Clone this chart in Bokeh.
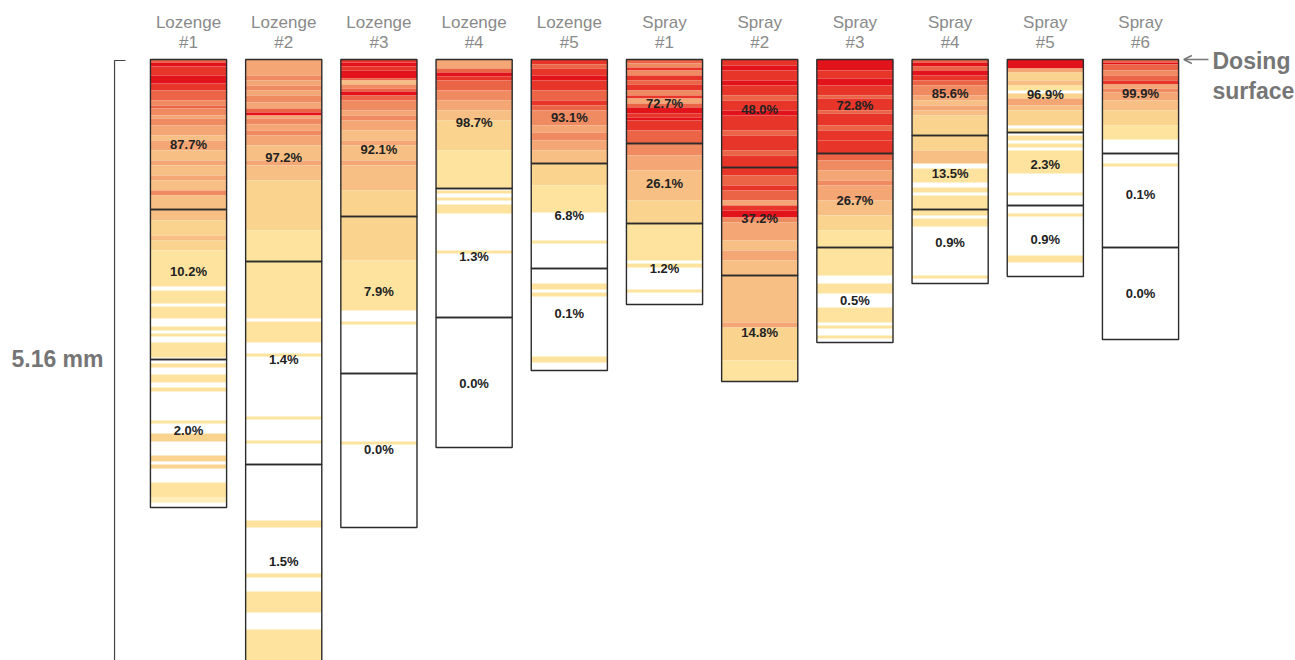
from bokeh.plotting import figure
from bokeh.models import Range1d, ColumnDataSource, Arrow, OpenHead
from bokeh.embed import file_html
from bokeh.resources import INLINE
from bokeh.core.properties import value

# ---------------- data ----------------
groups = ["Lozenge"] * 5 + ["Spray"] * 6
numbers = ["#1", "#2", "#3", "#4", "#5", "#1", "#2", "#3", "#4", "#5", "#6"]

# segment boundaries (depth units from dosing surface, 600 units = 5.16 mm)
bounds = [
    [0, 150, 300, 448],
    [0, 202, 405, 607],
    [0, 157, 314, 468],
    [0, 129, 258, 388],
    [0, 104, 209, 311],
    [0, 84, 164, 245],
    [0, 108, 216, 322],
    [0, 94, 188, 283],
    [0, 76, 150, 224],
    [0, 73, 146, 217],
    [0, 94, 188, 280],
]

pcts = [
    ["87.7%", "10.2%", "2.0%"],
    ["97.2%", "1.4%", "1.5%"],
    ["92.1%", "7.9%", "0.0%"],
    ["98.7%", "1.3%", "0.0%"],
    ["93.1%", "6.8%", "0.1%"],
    ["72.7%", "26.1%", "1.2%"],
    ["48.0%", "37.2%", "14.8%"],
    ["72.8%", "26.7%", "0.5%"],
    ["85.6%", "13.5%", "0.9%"],
    ["96.9%", "2.3%", "0.9%"],
    ["99.9%", "0.1%", "0.0%"],
]

# intensity slices per column: (end depth, level 0..9); start = previous end
runs = [
    [(3, 7), (7, 9), (16, 8), (24, 9), (31, 8), (41, 7), (46, 6), (49, 7), (56, 6), (59, 5),
     (66, 6), (76, 5), (81, 4), (91, 5), (101, 4), (106, 5), (116, 4), (121, 5), (131, 4),
     (136, 6), (150, 4), (161, 4), (176, 3), (181, 4), (191, 3), (227, 2), (231, 0), (244, 2),
     (247, 0), (259, 2), (267, 0), (271, 2), (274, 0), (277, 2), (283, 0), (298, 2), (300, 0),
     (304, 0), (308, 2), (315, 0), (323, 2), (328, 0), (332, 2), (361, 0), (364, 2), (374, 0),
     (382, 3), (396, 0), (402, 3), (405, 0), (409, 3), (423, 0), (438, 2), (443, 1), (448, 0)],
    [(16, 5), (21, 6), (26, 5), (31, 6), (36, 5), (43, 6), (49, 5), (53, 7), (56, 9), (59, 5),
     (65, 6), (71, 5), (76, 6), (86, 5), (101, 4), (106, 5), (121, 4), (171, 3), (202, 2),
     (259, 2), (262, 0), (283, 2), (294, 0), (297, 2), (357, 0), (360, 2), (381, 0), (384, 2),
     (405, 0), (461, 0), (468, 2), (514, 0), (518, 2), (532, 0), (553, 2), (570, 0), (607, 2)],
    [(3, 8), (7, 9), (11, 8), (19, 9), (21, 7), (25, 4), (29, 6), (32, 7), (36, 9), (41, 7),
     (51, 6), (56, 5), (61, 6), (71, 5), (81, 4), (86, 5), (101, 4), (106, 5), (131, 4),
     (157, 3), (201, 3), (251, 2), (262, 0), (265, 2), (314, 0), (382, 0), (385, 2), (468, 0)],
    [(9, 5), (13, 7), (17, 9), (21, 8), (31, 7), (41, 6), (51, 5), (61, 4), (91, 3), (129, 2),
     (131, 0), (134, 2), (138, 0), (141, 2), (145, 0), (154, 2), (191, 0), (194, 2), (258, 0),
     (388, 0)],
    [(5, 8), (9, 7), (16, 8), (21, 9), (31, 8), (41, 7), (46, 8), (51, 7), (66, 6), (73, 5),
     (81, 6), (91, 5), (104, 4), (126, 3), (153, 2), (181, 0), (184, 2), (209, 0), (224, 0),
     (230, 2), (233, 0), (237, 2), (297, 0), (303, 2), (311, 0)],
    [(4, 7), (8, 6), (11, 8), (16, 6), (21, 8), (25, 7), (31, 8), (36, 6), (39, 8), (44, 5),
     (48, 7), (54, 9), (58, 8), (61, 9), (71, 8), (84, 7), (96, 6), (111, 5), (141, 4),
     (164, 3), (201, 2), (204, 0), (208, 2), (230, 0), (233, 2), (245, 0)],
    [(6, 8), (11, 9), (21, 8), (26, 9), (36, 8), (41, 7), (51, 8), (56, 9), (71, 8), (76, 7),
     (91, 8), (96, 7), (108, 8), (116, 8), (126, 7), (131, 8), (141, 7), (146, 5), (151, 8),
     (158, 9), (163, 6), (181, 5), (191, 4), (201, 5), (216, 4), (263, 4), (268, 5), (301, 3),
     (322, 2)],
    [(11, 9), (19, 8), (26, 9), (36, 8), (39, 7), (51, 8), (54, 7), (66, 8), (71, 7), (81, 8),
     (94, 8), (101, 7), (111, 6), (121, 5), (126, 6), (141, 5), (156, 4), (171, 3), (188, 2),
     (216, 2), (224, 0), (234, 2), (248, 0), (263, 2), (266, 0), (269, 2), (276, 0), (279, 2),
     (283, 0)],
    [(3, 7), (7, 9), (11, 7), (16, 9), (21, 8), (26, 7), (36, 6), (41, 5), (46, 4), (51, 5),
     (56, 4), (76, 3), (91, 3), (104, 4), (109, 0), (123, 2), (128, 0), (133, 2), (136, 0),
     (150, 2), (156, 2), (159, 0), (167, 2), (216, 0), (219, 2), (224, 0)],
    [(9, 9), (13, 5), (21, 3), (26, 4), (31, 2), (34, 0), (39, 3), (46, 5), (51, 4), (66, 3),
     (69, 0), (73, 2), (76, 0), (81, 2), (84, 0), (88, 2), (91, 0), (114, 2), (133, 0),
     (136, 2), (146, 0), (154, 0), (157, 2), (196, 0), (203, 2), (217, 0)],
    [(3, 7), (5, 9), (11, 7), (16, 6), (21, 7), (25, 8), (29, 5), (33, 6), (41, 5), (51, 4),
     (66, 3), (80, 2), (94, 0), (104, 0), (107, 2), (188, 0), (280, 0)],
]

# ---------------- styling / layout ----------------
palette = {1: "#FEEDB8", 2: "#FDE39E", 3: "#FAD38F", 4: "#F7BF83", 5: "#F4A674",
           6: "#F08A60", 7: "#EC6446", 8: "#E7352A", 9: "#E3131B"}
label_shift = [
    [10, -13, -3], [-3, -4, -4], [11, -4, -1], [-2, 3, 1], [6, -1, -6],
    [2, 0, 4], [-4, -3, 4], [-1, 0, 5], [-4, 1, -4], [-2, -5, -2], [-13, -6, 0],
]
half_w = 0.4
FONT = value("Liberation Sans")

p = figure(width=1295, height=660, x_range=Range1d(-1.975, 11.628),
           y_range=Range1d(601, -59), output_backend="svg", toolbar_location=None,
           x_axis_location=None, y_axis_location=None, min_border=0)
p.grid.visible = False
p.outline_line_color = None
p.background_fill_color = "white"
p.border_fill_color = "white"

# stripes
sl, sr, st, sb, sc = [], [], [], [], []
for i, col in enumerate(runs):
    start = 0
    for end, lvl in col:
        if lvl > 0:
            sl.append(i - half_w); sr.append(i + half_w)
            st.append(start); sb.append(end); sc.append(palette[lvl])
        start = end
p.quad(source=ColumnDataSource(dict(l=sl, r=sr, t=st, b=sb, c=sc)),
       left="l", right="r", top="t", bottom="b", fill_color="c", line_color=None)

# segment outlines and percentage labels
ol, orr, ot, ob = [], [], [], []
tx, ty, tt = [], [], []
for i, bd in enumerate(bounds):
    for k in range(3):
        ol.append(i - half_w); orr.append(i + half_w); ot.append(bd[k]); ob.append(bd[k + 1])
        tx.append(i); ty.append((bd[k] + bd[k + 1]) / 2 + label_shift[i][k]); tt.append(pcts[i][k])
p.quad(left=ol, right=orr, top=ot, bottom=ob, fill_color=None, line_color="#2b2b2b",
       line_width=1.4)

p.text(x=tx, y=ty, text=tt, text_align="center", text_baseline="middle", text_font=FONT,
       text_font_size="13px", text_font_style="bold", text_color="#222222")

# column titles
xs = list(range(len(groups)))
p.text(x=xs, y=[-37] * len(xs), text=groups, text_align="center", text_baseline="middle",
       text_font=FONT, text_font_size="17px", text_color="#8a8a8a")
p.text(x=xs, y=[-17] * len(xs), text=numbers, text_align="center", text_baseline="middle",
       text_font=FONT, text_font_size="17px", text_color="#8a8a8a")

# depth bracket
p.line(x=[-0.662, -0.777, -0.777], y=[1, 1, 610], line_color="#444444", line_width=1.2)
p.text(x=[-0.893], y=[299], text=["5.16 mm"], text_align="right", text_baseline="middle",
       text_font=FONT, text_font_size="23px", text_font_style="bold", text_color="#757575")

# dosing surface note
p.add_layout(Arrow(end=OpenHead(size=8, line_color="#777777", line_width=1.5),
                   x_start=10.714, y_start=0, x_end=10.455, y_end=0,
                   line_color="#777777", line_width=1.5))
p.text(x=[10.756, 10.756], y=[1, 31], text=["Dosing", "surface"], text_align="left",
       text_baseline="middle", text_font=FONT, text_font_size="23px",
       text_font_style="bold", text_color="#767676")

open("out.html", "w").write(file_html(p, INLINE))
